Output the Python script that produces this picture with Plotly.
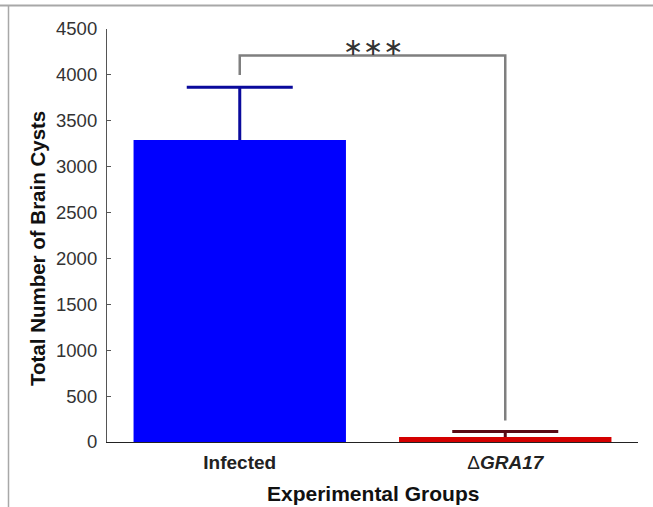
import plotly.graph_objects as go

# Data
categories = ["Infected", "ΔGRA17"]
tick_labels = ["<b>Infected</b>", "Δ<b><i>GRA17</i></b>"]
cyst_means = [3290, 55]
cyst_errors = [575, 60]
bracket_low = [4000, 235]
bracket_top = 4210
significance = "∗∗∗"

bar_colors = ["#0000ff", "#d40000"]
err_colors = ["#0a0a9c", "#5a0a14"]

W, H = 653, 507
ML, MR, MT, MB = 107, 15, 29, 65

fig = go.Figure()
for i, cat in enumerate(categories):
    # error bar carrier (drawn beneath the visible bar so only the upper part shows)
    fig.add_trace(go.Bar(
        x=[cat], y=[cyst_means[i]],
        width=0.8,
        marker=dict(color="rgba(0,0,0,0)", line=dict(width=0)),
        error_y=dict(type="data", symmetric=False, array=[cyst_errors[i]],
                     arrayminus=[cyst_means[i]], color=err_colors[i], thickness=3, width=53),
        showlegend=False, hoverinfo="skip",
    ))
    fig.add_trace(go.Bar(
        x=[cat], y=[cyst_means[i]],
        width=0.8,
        marker=dict(color=bar_colors[i], line=dict(width=0)),
        showlegend=False,
    ))

# significance bracket
fig.add_trace(go.Scatter(
    x=[categories[0], categories[0], categories[1], categories[1]],
    y=[bracket_low[0], bracket_top, bracket_top, bracket_low[1]],
    mode="lines", line=dict(color="#7f7f7f", width=2.5),
    showlegend=False, hoverinfo="skip",
))

fig.add_annotation(x=0.5, y=bracket_top, xref="x", yref="y", text=significance,
                   showarrow=False, yanchor="bottom", yshift=-7,
                   font=dict(family="DejaVu Sans", size=24, color="#333333"))

fig.update_layout(
    width=W, height=H,
    margin=dict(l=ML, r=MR, t=MT, b=MB),
    paper_bgcolor="white", plot_bgcolor="white",
    barmode="overlay",
    font=dict(family="Liberation Sans, Arial", color="#222222"),
    xaxis=dict(
        type="category", range=[-0.5, 1.5],
        tickmode="array", tickvals=categories, ticktext=tick_labels,
        showline=True, linecolor="#222222", linewidth=1.2,
        ticks="", showgrid=False, zeroline=False,
        tickfont=dict(size=19, color="#222222"),
        ticklabelstandoff=3,
    ),
    yaxis=dict(
        range=[0, 4500], dtick=500,
        showline=True, linecolor="#555555", linewidth=1.2,
        ticks="inside", ticklen=4, tickcolor="#555555",
        showgrid=False, zeroline=False,
        tickfont=dict(size=18.5, color="#333333"),
        ticklabelstandoff=5,
    ),
)

ph = H - MT - MB
pw = W - ML - MR

# axis titles
fig.add_annotation(text="<b>Total Number of Brain Cysts</b>", xref="paper", yref="paper",
                   x=(37 - ML) / pw, y=(H - MB - 249) / ph, textangle=-90, showarrow=False,
                   xanchor="center", yanchor="middle",
                   font=dict(size=20.5, color="#111111"))
fig.add_annotation(text="<b>Experimental Groups</b>", xref="paper", yref="paper",
                   x=0.5, y=-(493 - (H - MB)) / ph, xanchor="center", yanchor="middle",
                   showarrow=False, font=dict(size=21, color="#111111"))

# image frame (top and left)
fig.add_shape(type="line", xref="paper", yref="paper",
              x0=(0 - ML) / pw, x1=(W - ML) / pw,
              y0=(H - MB - 5.5) / ph, y1=(H - MB - 5.5) / ph,
              line=dict(color="#a8a8a8", width=2))
fig.add_shape(type="line", xref="paper", yref="paper",
              x0=(8.5 - ML) / pw, x1=(8.5 - ML) / pw,
              y0=(H - MB - 5.5) / ph, y1=-MB / ph,
              line=dict(color="#a8a8a8", width=1.5))

fig.write_html("out.html", config={"displayModeBar": False},
               post_script="document.body.style.margin='0';")
